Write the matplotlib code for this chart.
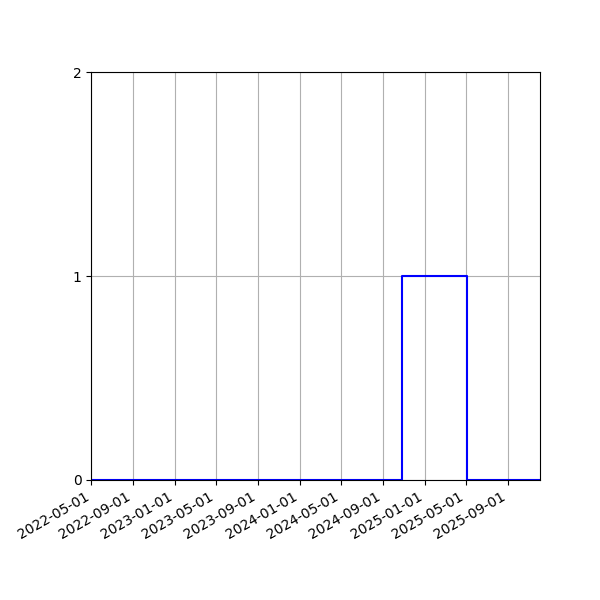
import matplotlib
matplotlib.use("Agg")
import matplotlib.pyplot as plt
import matplotlib.dates as mdates
import numpy as np
import datetime as dt

dates = ["2022-05-01", "2024-10-28", "2025-05-05", "2025-12-05"]
values = [0, 1, 0, 0]
yticks = [0, 1, 2]

x = [dt.datetime.strptime(d, "%Y-%m-%d") for d in dates]

fig, ax = plt.subplots(figsize=(6, 6), dpi=100)
ax.plot(x, values, color="blue", drawstyle="steps-post", linewidth=1.5)
ax.set_xlim(x[0], x[-1])
ax.set_ylim(0, 2)
ax.set_yticks(yticks)
ax.xaxis.set_major_locator(mdates.MonthLocator(bymonth=[1, 5, 9]))
ax.xaxis.set_major_formatter(mdates.DateFormatter("%Y-%m-%d"))
ax.grid(True)
fig.autofmt_xdate()
fig.subplots_adjust(left=0.152, right=0.9, top=0.88, bottom=0.2)
fig.savefig("out.png")
